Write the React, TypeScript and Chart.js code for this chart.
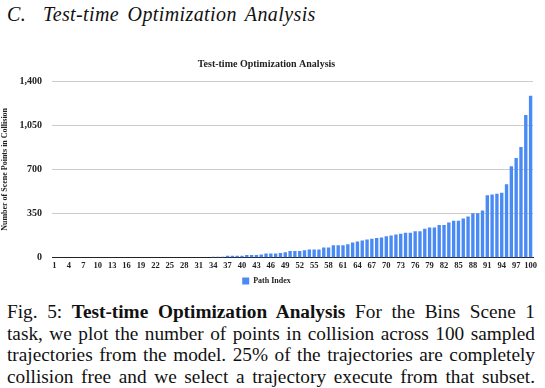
import React, { useEffect, useRef } from "react";
import { Chart, registerables } from "chart.js";

Chart.register(...registerables);

const pathIndex: string[] = Array.from({ length: 100 }, (_, i) => String(i + 1));

const collisionPoints: number[] = [
  0, 0, 0, 0, 0, 0, 0, 0, 0, 0,
  0, 0, 0, 0, 0, 0, 0, 0, 0, 0,
  0, 0, 0, 0, 0, 0, 0, 0, 0, 0,
  0, 0, 0, 8, 8, 8, 16, 16, 16, 16,
  22, 22, 22, 27, 35, 35, 35, 38, 43, 54,
  54, 54, 60, 65, 65, 65, 81, 81, 100, 100,
  100, 108, 122, 130, 137, 144, 150, 157, 160, 171,
  176, 184, 190, 198, 198, 211, 211, 231, 239, 239,
  260, 260, 279, 293, 293, 312, 328, 353, 353, 374,
  496, 502, 507, 515, 582, 725, 791, 878, 1130, 1284,
];

const yTicks: number[] = [0, 350, 700, 1050, 1400];

const chartTitle = "Test-time Optimization Analysis";
const yAxisTitle = "Number of Scene Points in Collision";
const seriesLabel = "Path Index";

const captionLines: string[] = [
  "For the Bins Scene 1",
  "task, we plot the number of points in collision across 100 sampled",
  "trajectories from the model. 25% of the trajectories are completely",
  "collision free and we select a trajectory execute from that subset.",
];

const SERIF = "'Liberation Serif', 'Times New Roman', serif";

export default function App() {
  const canvasRef = useRef<HTMLCanvasElement | null>(null);

  useEffect(() => {
    document.body.style.margin = "0";
    const ctx = canvasRef.current!.getContext("2d")!;
    const chart = new Chart(ctx, {
      type: "bar",
      data: {
        labels: pathIndex,
        datasets: [
          {
            label: seriesLabel,
            data: collisionPoints,
            backgroundColor: "#4a8af4",
            borderWidth: 0,
            barPercentage: 0.7,
            categoryPercentage: 1,
          },
        ],
      },
      options: {
        animation: false,
        responsive: false,
        maintainAspectRatio: false,
        layout: { padding: { top: 0, right: 12, bottom: 0, left: 0 } },
        plugins: {
          title: {
            display: true,
            text: chartTitle,
            color: "#222",
            font: { family: SERIF, size: 10, weight: "bold" },
            padding: { top: 14, bottom: 11 },
          },
          legend: {
            position: "bottom",
            labels: {
              boxWidth: 7,
              boxHeight: 7,
              color: "#222",
              font: { family: SERIF, size: 8, weight: "bold" },
              padding: 3,
            },
          },
          tooltip: { enabled: false },
        },
        scales: {
          x: {
            grid: { display: false, drawTicks: false },
            border: { display: true, color: "#222", width: 1 },
            ticks: {
              color: "#222",
              font: { family: SERIF, size: 8.5, weight: "bold" },
              autoSkip: false,
              maxRotation: 0,
              minRotation: 0,
              padding: 3,
              callback: (_v: any, i: number) => (i % 3 === 0 ? pathIndex[i] : ""),
            },
          },
          y: {
            min: 0,
            max: 1400,
            afterBuildTicks: (axis: any) => {
              axis.ticks = yTicks.map((v) => ({ value: v }));
            },
            afterFit: (axis: any) => {
              axis.width = 52;
            },
            grid: {
              drawTicks: false,
              color: (c: any) => (c.tick && c.tick.value === 0 ? "#222" : "#cccccc"),
              lineWidth: 1,
            },
            border: { display: false },
            ticks: {
              color: "#222",
              font: { family: SERIF, size: 10, weight: "bold" },
              padding: 10,
              callback: (v: any) => Number(v).toLocaleString("en-US"),
            },
            title: {
              display: true,
              text: yAxisTitle,
              color: "#222",
              font: { family: SERIF, size: 8, weight: "bold" },
              padding: { top: 0, bottom: 0 },
            },
          },
        },
      },
    });
    return () => chart.destroy();
  }, []);

  const lineStyle: React.CSSProperties = {
    textAlign: "justify",
    textAlignLast: "justify",
    whiteSpace: "nowrap",
    height: 21.5,
  };

  return (
    <div style={{ position: "relative", width: 545, height: 388, overflow: "hidden", background: "#fff" }}>
      <div
        style={{
          position: "absolute",
          left: 7,
          top: 3,
          fontFamily: SERIF,
          fontStyle: "italic",
          fontSize: 20,
          wordSpacing: 3,
          letterSpacing: 0.4,
          color: "#111",
          whiteSpace: "nowrap",
        }}
      >
        C.&nbsp; Test-time Optimization Analysis
      </div>
      <canvas
        ref={canvasRef}
        width={545}
        height={251}
        style={{ position: "absolute", left: 0, top: 44, width: 545, height: 251 }}
      />
      <div
        style={{
          position: "absolute",
          left: 7,
          top: 301,
          width: 528,
          fontFamily: SERIF,
          fontSize: 19.3,
          lineHeight: "21.5px",
          color: "#111",
        }}
      >
        <div style={lineStyle}>
          Fig. 5: <b>Test-time Optimization Analysis</b> {captionLines[0]}
        </div>
        <div style={lineStyle}>{captionLines[1]}</div>
        <div style={lineStyle}>{captionLines[2]}</div>
        <div style={lineStyle}>{captionLines[3]}</div>
      </div>
    </div>
  );
}
